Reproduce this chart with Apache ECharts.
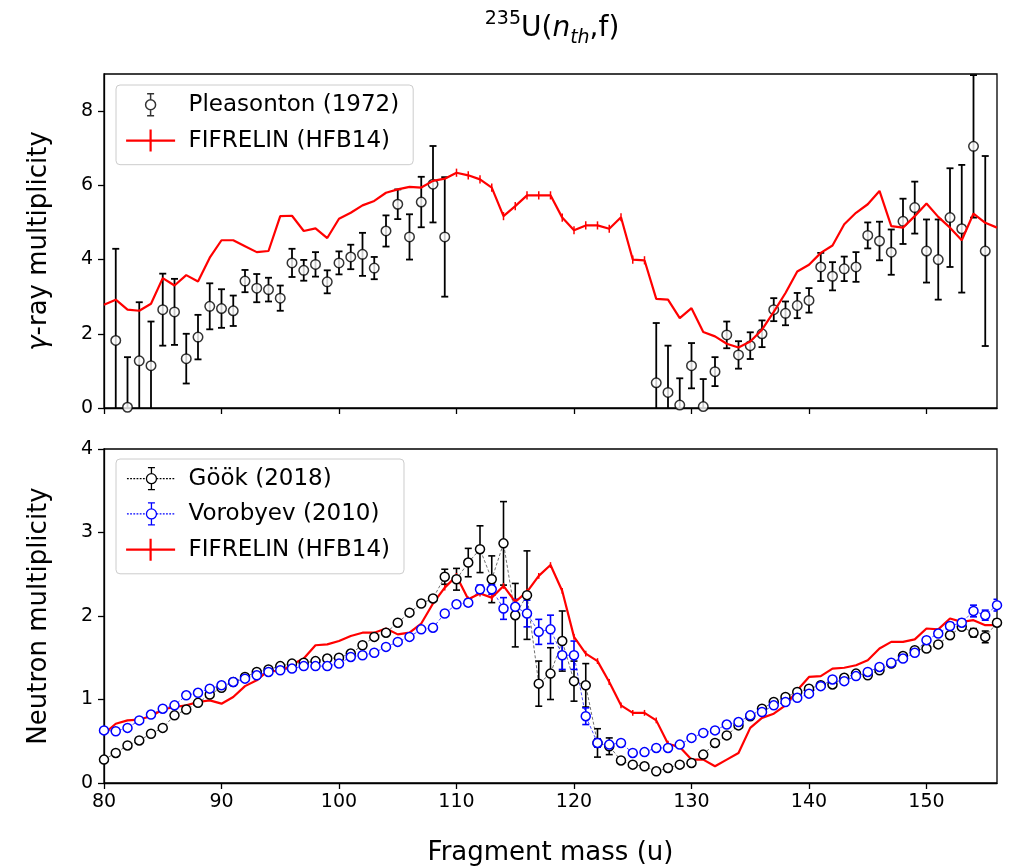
<!DOCTYPE html>
<html><head><meta charset="utf-8">
<script src="https://cdn.jsdelivr.net/npm/echarts@6.0.0/dist/echarts.min.js"></script>
<style>html,body{margin:0;padding:0;background:#fff}#c{width:1010px;height:868px}</style>
</head><body><div id="c"></div>
<script>
// ---------- data ----------
const pleasMass = [81,82,83,84,85,86,87,88,89,90,91,92,93,94,95,96,97,98,99,100,101,102,103,104,105,106,107,108,109,
  127,128,129,130,131,132,133,134,135,136,137,138,139,140,141,142,143,144,145,146,147,148,149,150,151,152,153,154,155];
const pleasGamma = [1.82,0.02,1.27,1.14,2.65,2.59,1.33,1.91,2.74,2.68,2.62,3.42,3.23,3.19,2.96,3.91,3.71,3.87,3.40,3.91,4.07,4.14,3.77,4.77,5.49,4.61,5.55,6.03,4.61,
  0.68,0.42,0.08,1.14,0.04,0.98,1.97,1.43,1.68,2.00,2.65,2.55,2.76,2.90,3.80,3.55,3.75,3.80,4.65,4.50,4.20,5.03,5.40,4.23,4.00,5.13,4.83,7.05,4.23];
const pleasErr = [2.47,1.35,1.58,1.19,0.97,0.89,0.67,0.60,0.62,0.52,0.41,0.30,0.38,0.32,0.34,0.38,0.28,0.33,0.31,0.31,0.33,0.58,0.30,0.42,0.40,0.61,0.68,1.03,1.61,
  1.61,1.26,0.72,0.61,0.74,0.39,0.36,0.37,0.36,0.36,0.31,0.32,0.34,0.33,0.38,0.38,0.33,0.40,0.35,0.52,0.61,0.61,0.70,0.85,1.08,1.33,1.72,1.92,2.56];

const mass = [80,81,82,83,84,85,86,87,88,89,90,91,92,93,94,95,96,97,98,99,100,101,102,103,104,105,106,107,108,109,
  110,111,112,113,114,115,116,117,118,119,120,121,122,123,124,125,126,127,128,129,130,131,132,133,134,135,136,137,138,139,
  140,141,142,143,144,145,146,147,148,149,150,151,152,153,154,155,156];
const fifGamma = [2.78,2.92,2.65,2.62,2.81,3.50,3.30,3.58,3.41,4.05,4.52,4.52,4.36,4.20,4.23,5.17,5.18,4.77,4.84,4.58,5.10,5.26,5.46,5.58,5.80,5.89,5.96,5.94,6.12,6.18,
  6.34,6.27,6.16,5.94,5.17,5.44,5.73,5.73,5.73,5.13,4.79,4.92,4.92,4.83,5.14,4.00,3.98,2.94,2.92,2.42,2.69,2.05,1.93,1.73,1.63,1.79,2.11,2.59,3.10,3.68,
  3.86,4.18,4.38,4.95,5.26,5.49,5.85,4.90,4.86,5.17,5.51,5.15,4.86,4.52,5.24,4.99,4.86];
const fifGammaErr = [0,0,0,0,0,0,0,0,0,0,0,0,0,0,0,0,0,0,0,0,0,0,0,0,0,0,0,0,0,0,
  0.11,0.11,0.11,0.11,0.11,0.11,0.11,0.11,0.11,0.11,0.11,0.11,0.11,0.11,0.11,0.11,0.11,0,0,0,0,0,0,0,0,0,0,0,0,0,
  0,0,0,0,0,0,0,0,0,0,0,0,0,0,0,0,0];
const gookNu = [0.28,0.36,0.45,0.51,0.59,0.66,0.81,0.88,0.96,1.06,1.14,1.21,1.27,1.33,1.36,1.40,1.43,1.44,1.46,1.49,1.50,1.55,1.65,1.75,1.80,1.92,2.04,2.15,2.21,2.47,
  2.44,2.64,2.80,2.44,2.87,2.01,2.25,1.19,1.31,1.70,1.22,1.17,0.48,0.44,0.27,0.22,0.20,0.14,0.18,0.22,0.24,0.34,0.48,0.57,0.69,0.80,0.89,0.97,1.03,1.09,
  1.13,1.17,1.18,1.26,1.31,1.29,1.35,1.43,1.52,1.59,1.61,1.66,1.77,1.87,1.80,1.75,1.92];
const gookErr = [0.02,0.02,0.02,0.02,0.02,0.02,0.02,0.02,0.02,0.02,0.02,0.02,0.02,0.02,0.02,0.02,0.02,0.02,0.02,0.02,0.02,0.02,0.02,0.02,0.02,0.02,0.02,0.02,0.03,0.09,
  0.13,0.17,0.28,0.28,0.50,0.38,0.53,0.27,0.31,0.36,0.24,0.26,0.17,0.10,0.03,0.02,0.02,0.02,0.02,0.02,0.02,0.02,0.02,0.02,0.02,0.02,0.02,0.02,0.02,0.02,
  0.02,0.02,0.02,0.02,0.02,0.02,0.02,0.02,0.02,0.02,0.02,0.02,0.03,0.03,0.05,0.07,0.04];
const vorNu = [0.63,0.62,0.66,0.75,0.82,0.89,0.93,1.05,1.08,1.13,1.17,1.21,1.25,1.29,1.33,1.35,1.37,1.40,1.40,1.40,1.43,1.51,1.53,1.56,1.63,1.69,1.75,1.84,1.86,2.03,
  2.14,2.16,2.32,2.32,2.09,2.11,2.03,1.81,1.84,1.53,1.53,0.80,0.48,0.46,0.48,0.36,0.37,0.42,0.42,0.46,0.54,0.60,0.63,0.70,0.73,0.81,0.85,0.93,0.97,1.02,
  1.07,1.16,1.24,1.22,1.28,1.33,1.39,1.44,1.49,1.56,1.71,1.79,1.88,1.92,2.06,2.01,2.13];
const vorErr = [0.02,0.02,0.02,0.02,0.02,0.02,0.02,0.02,0.02,0.02,0.02,0.02,0.02,0.02,0.02,0.02,0.02,0.02,0.02,0.02,0.02,0.02,0.02,0.02,0.02,0.02,0.02,0.02,0.02,0.02,
  0.03,0.04,0.05,0.06,0.13,0.09,0.16,0.15,0.17,0.17,0.17,0.10,0.05,0.03,0.02,0.02,0.02,0.02,0.02,0.02,0.02,0.02,0.02,0.02,0.02,0.02,0.02,0.02,0.02,0.02,
  0.02,0.02,0.02,0.02,0.02,0.02,0.02,0.02,0.02,0.02,0.03,0.03,0.04,0.04,0.07,0.06,0.07];
const fifNu = [0.59,0.71,0.75,0.76,0.80,0.88,0.91,0.93,0.97,0.99,0.95,1.03,1.16,1.23,1.35,1.33,1.42,1.49,1.65,1.66,1.70,1.76,1.80,1.80,1.85,1.78,1.80,1.91,2.15,2.34,
  2.48,2.20,2.27,2.22,2.36,2.17,2.29,2.48,2.61,2.30,1.75,1.55,1.46,1.21,0.93,0.84,0.84,0.75,0.47,0.43,0.28,0.28,0.20,0.28,0.36,0.66,0.78,0.83,0.93,1.11,
  1.27,1.28,1.37,1.38,1.41,1.47,1.61,1.69,1.69,1.72,1.85,1.84,1.97,1.93,1.95,1.89,1.89];
const fifNuErr = [0,0,0,0,0,0,0,0,0,0,0,0,0,0,0,0,0,0,0,0,0,0,0,0,0,0,0,0,0,0.035,
  0.035,0.035,0.035,0.035,0.035,0.035,0.035,0.035,0.035,0.035,0.035,0.035,0.035,0.035,0.035,0.035,0.035,0.035,0.035,0,0,0,0,0,0,0,0,0,0,0,
  0,0,0,0,0,0,0,0,0,0,0,0,0,0,0,0,0];
const xTicks = [80,90,100,110,120,130,140,150];
const gammaTicks = [0,2,4,6,8];
const nuTicks = [0,1,2,3,4];

// ---------- helpers ----------
const FONT = 'DejaVu Sans';
function pts(xs, ys){ return xs.map((x,i)=>[x, ys[i]]); }
function bars(xs, ys, es){ return xs.map((x,i)=>[x, ys[i]-es[i], ys[i]+es[i]]); }
function errRender(color, cap, width){
  return function(params, api){
    const x = api.value(0), lo = api.value(1), hi = api.value(2);
    if (!(hi > lo)) return null;
    const a = api.coord([x, hi]), b = api.coord([x, lo]);
    const st = {stroke: color, lineWidth: width};
    const ch = [{type:'line', shape:{x1:a[0],y1:a[1],x2:b[0],y2:b[1]}, style: st}];
    if (cap > 0) {
      ch.push({type:'line', shape:{x1:a[0]-cap,y1:a[1],x2:a[0]+cap,y2:a[1]}, style: st});
      ch.push({type:'line', shape:{x1:b[0]-cap,y1:b[1],x2:b[0]+cap,y2:b[1]}, style: st});
    }
    return {type:'group', children: ch};
  };
}
function errSeries(name, xi, data, color, cap, width){
  return {name, type:'custom', xAxisIndex:xi, yAxisIndex:xi, clip:true, silent:true,
    renderItem: errRender(color, cap, width), encode:{x:0, y:[1,2]}, data};
}
// legend icon paths (49 x 22 box)
const circ = 'M29.5 11 A5 5 0 1 1 19.5 11 A5 5 0 1 1 29.5 11 Z';
const ebar = 'M21 0 L28 0 M24.5 0 L24.5 6 M24.5 16 L24.5 22 M21 22 L28 22 ';
function dashes(x0, x1){ let s=''; for(let x=x0; x<x1-0.5; x+=3.2){ s += 'M'+x+' 11 L'+Math.min(x+1.8,x1)+' 11 '; } return s; }
const iconErr = 'path://' + ebar + circ;
const iconErrDash = 'path://' + dashes(0,19.5) + dashes(29.5,49) + ebar + circ;
const iconFif = 'path://M0 11 L49 11 M24.5 0 L24.5 22';

const xAxisBase = (gi, showLabels) => ({
  type:'value', gridIndex: gi, min:80, max:156,
  axisLine:{show:true, lineStyle:{color:'#000', width:1.3}},
  axisTick:{show:true, customValues:xTicks, length:6, lineStyle:{color:'#000', width:1.3}},
  axisLabel:{show:showLabels, customValues:xTicks, color:'#000', fontSize:19, fontFamily:FONT, margin:10},
  splitLine:{show:false}
});
const yAxisBase = (gi, max, ticks, name) => ({
  type:'value', gridIndex: gi, min:0, max:max,
  axisLine:{show:true, lineStyle:{color:'#000', width:1.3}},
  axisTick:{show:true, customValues:ticks, length:6, lineStyle:{color:'#000', width:1.3}},
  axisLabel:{customValues:ticks, color:'#000', fontSize:19, fontFamily:FONT, margin:11},
  splitLine:{show:false},
  name: name, nameLocation:'middle', nameGap:52,
  nameTextStyle:{color:'#000', fontSize:26, fontFamily:FONT, rich:{i:{fontStyle:'italic', fontSize:26, fontFamily:FONT, color:'#000'}}}
});

const legendBase = {
  orient:'vertical', left:116, itemWidth:66, itemHeight:22, itemGap:12,
  padding:[8,14,12,9], backgroundColor:'rgba(255,255,255,0.85)', borderColor:'#cccccc', borderWidth:1, borderRadius:4,
  textStyle:{color:'#000', fontSize:23, fontFamily:FONT}, selectedMode:false
};

const option = {
  animation:false,
  backgroundColor:'#fff',
  textStyle:{fontFamily:FONT},
  title:{
    text:'{s|235}{m|U(}{i|n}{b|th}{m|,f)}', left:547, top:5, textAlign:'center',
    textStyle:{fontWeight:'normal', rich:{
      s:{fontSize:19, fontFamily:FONT, fontWeight:'normal', color:'#000', verticalAlign:'top', lineHeight:19},
      m:{fontSize:28, fontFamily:FONT, fontWeight:'normal', color:'#000', lineHeight:38},
      i:{fontSize:28, fontFamily:FONT, fontWeight:'normal', color:'#000', fontStyle:'italic', lineHeight:38},
      b:{fontSize:19, fontFamily:FONT, fontWeight:'normal', color:'#000', fontStyle:'italic', verticalAlign:'bottom', lineHeight:19}
    }}
  },
  grid:[
    {left:104, top:74, width:893, height:334, show:true, borderColor:'#000', borderWidth:1.3, backgroundColor:'transparent'},
    {left:104, top:449, width:893, height:334, show:true, borderColor:'#000', borderWidth:1.3, backgroundColor:'transparent'}
  ],
  xAxis:[ xAxisBase(0,false),
    Object.assign(xAxisBase(1,true), {name:'Fragment mass (u)', nameLocation:'middle', nameGap:57,
      nameTextStyle:{color:'#000', fontSize:26, fontFamily:FONT}}) ],
  yAxis:[ yAxisBase(0, 9, gammaTicks, '{i|γ}-ray multiplicity'), yAxisBase(1, 4, nuTicks, 'Neutron multiplicity') ],
  legend:[
    Object.assign({}, legendBase, {top:85, data:[
      {name:'Pleasonton (1972)', icon:iconErr, itemStyle:{color:'#fff', borderColor:'#000', borderWidth:1.5}},
      {name:'FIFRELIN (HFB14)', icon:iconFif, itemStyle:{color:'#ff0000', borderColor:'#ff0000', borderWidth:2.2}}
    ]}),
    Object.assign({}, legendBase, {top:459, data:[
      {name:'Göök (2018)', icon:iconErrDash, itemStyle:{color:'#fff', borderColor:'#000', borderWidth:1.3}},
      {name:'Vorobyev (2010)', icon:iconErrDash, itemStyle:{color:'#fff', borderColor:'#0000ff', borderWidth:1.3}},
      {name:'FIFRELIN (HFB14)', icon:iconFif, itemStyle:{color:'#ff0000', borderColor:'#ff0000', borderWidth:2.2}}
    ]})
  ],
  series:[
    // top panel
    errSeries('Pleasonton err', 0, bars(pleasMass, pleasGamma, pleasErr), '#000', 3.5, 1.8),
    {name:'Pleasonton (1972)', type:'scatter', xAxisIndex:0, yAxisIndex:0, clip:true, symbol:'circle', symbolSize:9.5,
      itemStyle:{color:'#fff', borderColor:'#000', borderWidth:1.5}, data: pts(pleasMass, pleasGamma)},
    errSeries('FIFRELIN gamma err', 0, bars(mass, fifGamma, fifGammaErr), '#ff0000', 0, 1.5),
    {name:'FIFRELIN (HFB14)', type:'line', xAxisIndex:0, yAxisIndex:0, symbol:'none', clip:true,
      lineStyle:{color:'#ff0000', width:2.2}, itemStyle:{color:'#ff0000'}, data: pts(mass, fifGamma)},
    // bottom panel
    errSeries('Gook err', 1, bars(mass, gookNu, gookErr), '#000', 3.5, 1.6),
    {name:'Göök (2018)', type:'line', xAxisIndex:1, yAxisIndex:1, clip:true, symbol:'circle', symbolSize:9, showAllSymbol:true,
      lineStyle:{color:'#333', width:0.7, type:[3,2]}, itemStyle:{color:'#fff', borderColor:'#000', borderWidth:1.5},
      data: pts(mass, gookNu)},
    errSeries('Vorobyev err', 1, bars(mass, vorNu, vorErr), '#0000ff', 3.5, 1.6),
    {name:'Vorobyev (2010)', type:'line', xAxisIndex:1, yAxisIndex:1, clip:true, symbol:'circle', symbolSize:9, showAllSymbol:true,
      lineStyle:{color:'#0000ff', width:0.7, type:[3,2]}, itemStyle:{color:'#fff', borderColor:'#0000ff', borderWidth:1.5},
      data: pts(mass, vorNu)},
    errSeries('FIFRELIN nu err', 1, bars(mass, fifNu, fifNuErr), '#ff0000', 0, 1.5),
    {name:'FIFRELIN (HFB14)', type:'line', xAxisIndex:1, yAxisIndex:1, symbol:'none', clip:true,
      lineStyle:{color:'#ff0000', width:2.2}, itemStyle:{color:'#ff0000'}, data: pts(mass, fifNu)}
  ]
};
const chart = echarts.init(document.getElementById('c'), null, {renderer:'canvas'});
chart.setOption(option);
</script>
</body></html>
